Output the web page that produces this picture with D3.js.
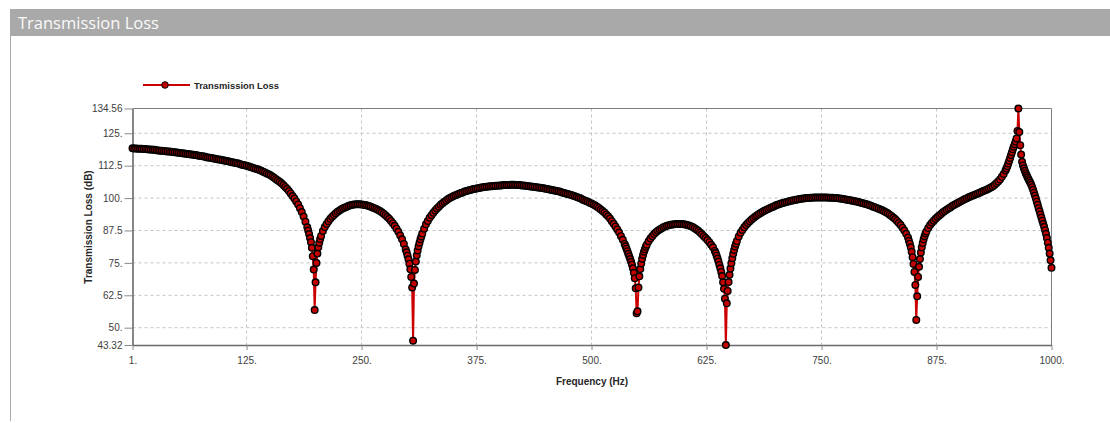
<!DOCTYPE html>
<html>
<head>
<meta charset="utf-8">
<script src="https://cdn.jsdelivr.net/npm/d3@7"></script>
<style>
  body { margin: 0; background: #fff; }
  svg { display: block; }
</style>
</head>
<body>
<script>
var width = 1110, height = 423;
var plot = { left: 132.5, right: 1051.5, top: 108.5, bottom: 345 };

// axis ticks
var xTicks = [1, 125, 250, 375, 500, 625, 750, 875, 1000];
var xTickLabels = ["1.", "125.", "250.", "375.", "500.", "625.", "750.", "875.", "1000."];
var yTicks = [43.32, 50, 62.5, 75, 87.5, 100, 112.5, 125, 134.56];
var yTickLabels = ["43.32", "50.", "62.5", "75.", "87.5", "100.", "112.5", "125.", "134.56"];

// [frequency Hz, transmission loss dB], one array per lobe between the dips
var lobe1 = [[1,119.2],[3,119.1],[5,119.1],[7,119.0],[9,119.0],[11,119.0],[13,118.9],[15,118.9],[17,118.8],[19,118.7],
  [21,118.7],[23,118.6],[25,118.6],[27,118.5],[29,118.4],[31,118.3],[33,118.3],[35,118.2],[37,118.1],[39,118.0],
  [41,118.0],[43,117.9],[45,117.8],[47,117.7],[49,117.6],[51,117.5],[53,117.4],[55,117.3],[57,117.2],[59,117.1],
  [61,117.0],[63,116.9],[65,116.8],[67,116.7],[69,116.6],[71,116.5],[73,116.3],[75,116.2],[77,116.1],[79,116.0],
  [81,115.8],[83,115.7],[85,115.6],[87,115.5],[89,115.3],[91,115.2],[93,115.0],[95,114.9],[97,114.8],[99,114.6],
  [101,114.5],[103,114.3],[105,114.2],[107,114.0],[109,113.8],[111,113.7],[113,113.5],[115,113.4],[117,113.2],[119,113.0],
  [121,112.8],[123,112.7],[125,112.5],[127,112.3],[129,112.0],[131,111.8],[133,111.5],[135,111.3],[137,111.1],[139,110.8],
  [141,110.5],[143,110.2],[145,109.9],[147,109.5],[149,109.2],[151,108.8],[153,108.3],[155,107.8],[157,107.3],[159,106.8],
  [161,106.3],[163,105.7],[165,105.0],[167,104.3],[169,103.6],[171,102.7],[173,101.8],[175,100.8],[177,99.8],[179,98.7],
  [181,97.5],[183,96.1],[185,94.6],[187,92.9],[189,90.9],[191,88.7],[192,87.5],[193,86.1],[194,84.6],[195,83.0],
  [196,80.8],[197,77.6],[198,72.4],[199,56.8]];

var lobe2 = [[200,67.5],[201,75.0],[202,78.6],[203,81.0],[204,82.8],[205,84.2],[206,85.4],[208,87.3],[210,88.8],[212,90.0],
  [214,91.1],[216,92.0],[218,92.8],[220,93.5],[222,94.1],[224,94.7],[226,95.2],[228,95.7],[230,96.1],[232,96.4],
  [234,96.7],[236,97.0],[238,97.2],[240,97.4],[242,97.5],[244,97.6],[246,97.6],[248,97.6],[250,97.5],[252,97.4],
  [254,97.3],[256,97.1],[258,96.9],[260,96.7],[262,96.4],[264,96.1],[266,95.8],[268,95.4],[270,95.0],[272,94.5],
  [274,94.0],[276,93.4],[278,92.7],[280,92.0],[282,91.2],[284,90.3],[286,89.3],[288,88.2],[290,87.0],[292,85.6],
  [294,84.1],[296,82.3],[298,80.2],[299,79.1],[300,77.8],[301,76.4],[302,74.7],[303,72.5],[304,69.6],[305,65.5],
  [306,45.0]];

var lobe3 = [[307,67.0],[308,72.3],[309,75.5],[310,77.9],[311,79.8],[312,81.4],[313,82.8],[314,84.1],[315,85.2],[316,86.3],
  [318,88.2],[320,89.9],[322,91.2],[324,92.4],[326,93.4],[328,94.3],[330,95.2],[332,96.0],[334,96.7],[336,97.4],
  [338,98.0],[340,98.6],[342,99.1],[344,99.6],[346,100.0],[348,100.4],[350,100.8],[352,101.1],[354,101.4],[356,101.7],
  [358,102.0],[360,102.2],[362,102.5],[364,102.7],[366,102.9],[368,103.1],[370,103.3],[372,103.5],[374,103.6],[376,103.8],
  [378,103.9],[380,104.1],[382,104.2],[384,104.3],[386,104.4],[388,104.5],[390,104.6],[392,104.6],[394,104.7],[396,104.8],
  [398,104.8],[400,104.9],[402,104.9],[404,105.0],[406,105.0],[408,105.0],[410,105.0],[412,105.1],[414,105.1],[416,105.1],
  [418,105.0],[420,105.0],[422,105.0],[424,104.9],[426,104.9],[428,104.8],[430,104.7],[432,104.6],[434,104.5],[436,104.4],
  [438,104.3],[440,104.2],[442,104.1],[444,104.0],[446,103.9],[448,103.8],[450,103.6],[452,103.5],[454,103.3],[456,103.2],
  [458,103.0],[460,102.9],[462,102.7],[464,102.6],[466,102.4],[468,102.2],[470,102.0],[472,101.8],[474,101.6],[476,101.4],
  [478,101.2],[480,100.9],[482,100.7],[484,100.4],[486,100.1],[488,99.9],[490,99.5],[492,99.2],[494,98.9],[496,98.6],
  [498,98.2],[500,97.9],[502,97.5],[504,97.1],[506,96.7],[508,96.2],[510,95.6],[512,95.0],[514,94.4],[516,93.7],
  [518,93.0],[520,92.1],[522,91.1],[524,90.1],[526,89.0],[528,87.9],[530,86.7],[532,85.3],[534,83.9],[536,82.3],
  [537,81.4],[538,80.5],[539,79.5],[540,78.5],[541,77.5],[542,76.5],[543,75.4],[544,74.3],[545,72.9],[546,71.2],
  [547,69.1],[548,65.2],[549,55.6]];

var lobe4 = [[550,56.3],[551,65.5],[552,69.8],[553,72.6],[554,74.8],[555,76.6],[556,78.0],[557,79.3],[558,80.3],[559,81.2],
  [560,82.0],[562,83.3],[564,84.4],[566,85.3],[568,86.1],[570,86.8],[572,87.4],[574,87.9],[576,88.3],[578,88.7],
  [580,89.0],[582,89.3],[584,89.5],[586,89.7],[588,89.8],[590,89.9],[592,90.0],[594,90.0],[596,90.0],[598,90.0],
  [600,89.9],[602,89.8],[604,89.6],[606,89.4],[608,89.1],[610,88.8],[612,88.4],[614,87.9],[616,87.4],[618,86.7],
  [620,86.0],[622,85.3],[624,84.6],[626,83.8],[628,83.0],[630,82.0],[632,81.0],[634,79.6],[635,78.8],[636,77.8],
  [637,76.7],[638,75.5],[639,74.2],[640,72.9],[641,71.5],[642,69.9],[643,67.5],[644,65.0],[645,61.2],[646,43.32]];

var lobe5 = [[647,59.4],[648,64.2],[649,67.6],[650,70.4],[651,72.8],[652,74.9],[653,76.8],[654,78.5],[655,80.0],[656,81.3],
  [657,82.4],[658,83.4],[660,85.2],[662,86.6],[664,87.7],[666,88.7],[668,89.6],[670,90.4],[672,91.1],[674,91.7],
  [676,92.3],[678,92.9],[680,93.4],[682,93.9],[684,94.3],[686,94.7],[688,95.1],[690,95.5],[692,95.8],[694,96.2],
  [696,96.5],[698,96.8],[700,97.1],[702,97.4],[704,97.6],[706,97.9],[708,98.1],[710,98.3],[712,98.5],[714,98.7],
  [716,98.9],[718,99.1],[720,99.2],[722,99.4],[724,99.5],[726,99.6],[728,99.7],[730,99.8],[732,99.9],[734,100.0],
  [736,100.0],[738,100.1],[740,100.1],[742,100.2],[744,100.2],[746,100.2],[748,100.2],[750,100.2],[752,100.2],[754,100.2],
  [756,100.2],[758,100.1],[760,100.1],[762,100.1],[764,100.0],[766,100.0],[768,99.9],[770,99.8],[772,99.7],[774,99.6],
  [776,99.5],[778,99.4],[780,99.3],[782,99.1],[784,99.0],[786,98.8],[788,98.7],[790,98.5],[792,98.3],[794,98.1],
  [796,97.9],[798,97.7],[800,97.5],[802,97.2],[804,97.0],[806,96.7],[808,96.5],[810,96.2],[812,95.9],[814,95.6],
  [816,95.3],[818,94.9],[820,94.5],[822,94.1],[824,93.6],[826,93.1],[828,92.5],[830,91.9],[832,91.2],[834,90.4],
  [836,89.6],[838,88.6],[840,87.5],[842,86.2],[844,84.8],[845,83.5],[846,82.4],[847,81.0],[848,79.3],[849,77.2],
  [850,74.6],[851,71.5],[852,66.5],[853,53.0]];

var lobe6 = [[854,62.1],[855,69.6],[856,73.5],[857,76.5],[858,79.0],[859,81.0],[860,82.7],[861,84.1],[862,85.3],[863,86.3],
  [864,87.1],[866,88.5],[868,89.6],[870,90.5],[872,91.3],[874,92.0],[876,92.7],[878,93.3],[880,93.9],[882,94.5],
  [884,95.0],[886,95.5],[888,96.0],[890,96.4],[892,96.9],[894,97.3],[896,97.7],[898,98.1],[900,98.5],[902,98.9],
  [904,99.3],[906,99.6],[908,99.9],[910,100.3],[912,100.6],[914,100.9],[916,101.2],[918,101.5],[920,101.8],[922,102.1],
  [924,102.4],[926,102.7],[928,103.0],[930,103.3],[932,103.7],[934,104.1],[936,104.5],[938,105.0],[940,105.7],[942,106.4],
  [944,107.2],[946,108.2],[948,109.3],[950,110.6],[951,111.4],[952,112.3],[953,113.3],[954,114.4],[955,115.5],[956,116.6],
  [957,117.7],[958,118.8],[959,119.8],[960,120.8],[961,121.8],[962,123.0],[963,125.9],[964,134.56],[965,125.5],[966,120.4],
  [967,116.8],[968,114.0],[969,112.6],[970,111.5],[971,110.5],[972,109.6],[973,108.8],[974,108.0],[975,107.3],[976,106.6],
  [977,105.9],[978,105.1],[979,104.2],[980,103.2],[981,102.1],[982,101.0],[983,99.8],[984,98.6],[985,97.4],[986,96.1],
  [987,94.9],[988,93.7],[989,92.5],[990,91.3],[991,90.1],[992,88.9],[993,87.6],[994,86.2],[995,84.6],[996,82.8],
  [997,80.8],[998,78.6],[999,76.0],[1000,73.1]];

var data = lobe1.concat(lobe2, lobe3, lobe4, lobe5, lobe6)
  .map(function (d) { return { freq: d[0], loss: d[1] }; });

var labelFont = "'Liberation Sans', Arial, sans-serif";
var lineRed = "#cc0000";

var svg = d3.select("body").append("svg")
  .attr("width", width)
  .attr("height", height);

svg.append("rect").attr("width", width).attr("height", height).attr("fill", "#fff");

// title bar and left frame edge
svg.append("rect")
  .attr("x", 10).attr("y", 9)
  .attr("width", width - 10).attr("height", 27)
  .attr("fill", "#a9a9a9");
svg.append("line")
  .attr("x1", 10.5).attr("x2", 10.5)
  .attr("y1", 36).attr("y2", 421)
  .attr("stroke", "#a9a9a9");
svg.append("text")
  .attr("x", 18).attr("y", 29)
  .attr("font-family", "'Open Sans', sans-serif")
  .attr("font-size", 16.5)
  .attr("fill", "#fafafa")
  .text("Transmission Loss");

var x = d3.scaleLinear().domain([1, 1000]).range([plot.left, plot.right]);
var y = d3.scaleLinear().domain([43.32, 134.56]).range([plot.bottom, plot.top]);

// dashed grid
var grid = svg.append("g").attr("stroke", "#c4c4c4").attr("stroke-dasharray", "3,3");
grid.selectAll(".vgrid")
  .data(xTicks.slice(1, -1))
  .enter().append("line")
  .attr("x1", d => x(d)).attr("x2", d => x(d))
  .attr("y1", plot.top).attr("y2", plot.bottom);
grid.selectAll(".hgrid")
  .data(yTicks.slice(1, -1))
  .enter().append("line")
  .attr("x1", plot.left).attr("x2", plot.right)
  .attr("y1", d => y(d)).attr("y2", d => y(d));

// top and right frame
svg.append("path")
  .attr("d", "M" + plot.left + "," + plot.top + "H" + plot.right + "V" + plot.bottom)
  .attr("fill", "none")
  .attr("stroke", "#7d7d7d");

var xAxis = d3.axisBottom(x)
  .tickValues(xTicks)
  .tickFormat((d, i) => xTickLabels[i])
  .tickSize(5).tickSizeOuter(0).tickPadding(7);
var yAxis = d3.axisLeft(y)
  .tickValues(yTicks)
  .tickFormat((d, i) => yTickLabels[i])
  .tickSize(8).tickSizeOuter(0).tickPadding(2);

var gx = svg.append("g")
  .attr("transform", "translate(0," + plot.bottom + ")")
  .call(xAxis);
var gy = svg.append("g")
  .attr("transform", "translate(" + plot.left + ",0)")
  .call(yAxis);

[gx, gy].forEach(function (g) {
  g.attr("font-family", labelFont).attr("font-size", 10);
  g.select(".domain").attr("stroke", "#6a6a6a").attr("stroke-width", 1.6);
  g.selectAll(".tick line").attr("stroke", "#8a8a8a");
  g.selectAll(".tick text").attr("fill", "#404040");
});

// axis titles
svg.append("text")
  .attr("x", (plot.left + plot.right) / 2)
  .attr("y", 385)
  .attr("text-anchor", "middle")
  .attr("font-family", labelFont)
  .attr("font-size", 10)
  .attr("font-weight", "bold")
  .attr("fill", "#262626")
  .text("Frequency (Hz)");

svg.append("text")
  .attr("transform", "translate(91.5," + 227 + ") rotate(-90)")
  .attr("text-anchor", "middle")
  .attr("font-family", labelFont)
  .attr("font-size", 10)
  .attr("font-weight", "bold")
  .attr("fill", "#262626")
  .text("Transmission Loss (dB)");

// legend
var legend = svg.append("g");
legend.append("line")
  .attr("x1", 143).attr("x2", 190)
  .attr("y1", 85).attr("y2", 85)
  .attr("stroke", lineRed).attr("stroke-width", 2);
legend.append("circle")
  .attr("cx", 165).attr("cy", 85).attr("r", 3.3)
  .attr("fill", "#c00000").attr("stroke", "#000").attr("stroke-width", 1);
legend.append("text")
  .attr("x", 194).attr("y", 88.5)
  .attr("font-family", labelFont)
  .attr("font-size", 9.4)
  .attr("font-weight", "bold")
  .attr("fill", "#262626")
  .text("Transmission Loss");

// series
var line = d3.line()
  .x(d => x(d.freq))
  .y(d => y(d.loss));

svg.append("path")
  .datum(data)
  .attr("d", line)
  .attr("fill", "none")
  .attr("stroke", lineRed)
  .attr("stroke-width", 2);

svg.append("g")
  .selectAll("circle")
  .data(data)
  .enter().append("circle")
  .attr("cx", d => x(d.freq))
  .attr("cy", d => y(d.loss))
  .attr("r", 3.3)
  .attr("fill", "#c40000")
  .attr("stroke", "#000")
  .attr("stroke-width", 1.4);
</script>
</body>
</html>
